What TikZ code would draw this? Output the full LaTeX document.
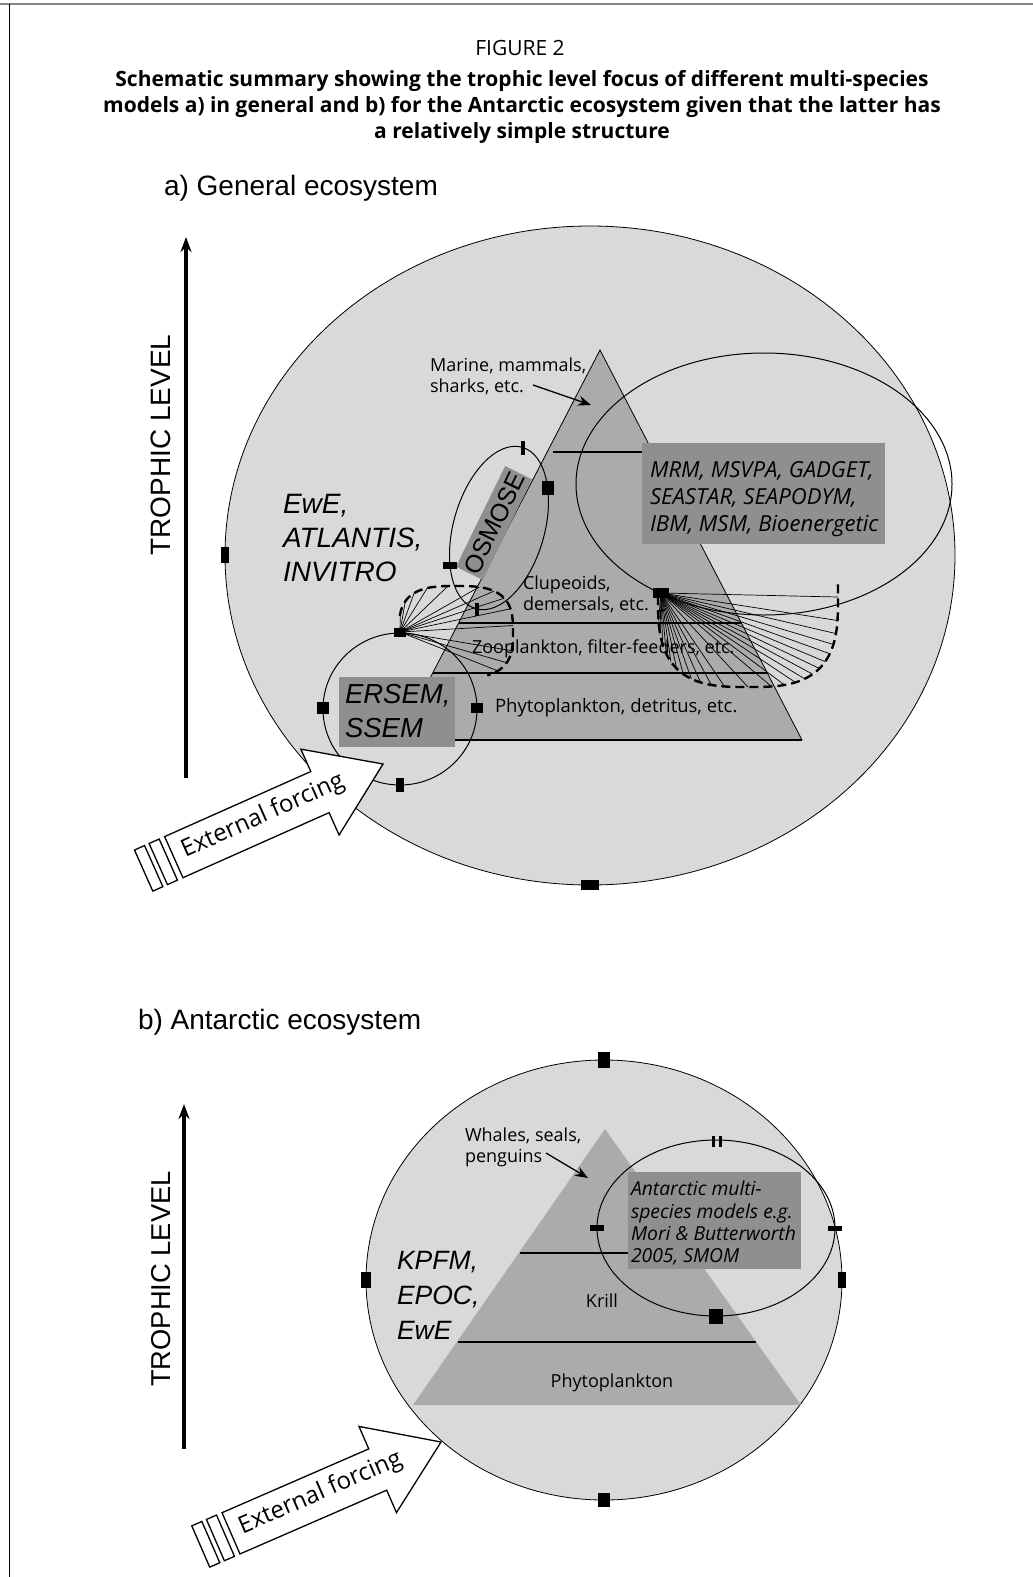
\documentclass[tikz,border=0pt]{standalone}
\usepackage{fontspec}
\setmainfont{Open Sans}
\newfontfamily\arialf{Liberation Sans}
\usetikzlibrary{arrows.meta}
\definecolor{bgray}{HTML}{D9D9D9}
\definecolor{pgray}{HTML}{ABABAB}
\definecolor{bxgray}{HTML}{8F8F8F}
\definecolor{framegray}{HTML}{858585}
\tikzset{
  every node/.style={inner sep=0pt, outer sep=0pt},
  bigell/.style={fill=bgray, draw=black, line width=0.8pt},
  pyr/.style={fill=pgray},
  band/.style={line width=2pt},
  modelbox/.style={fill=bxgray},
  outl/.style={draw=black, line width=1pt},
  mk/.style={fill=black, draw=none, rectangle},
  fanline/.style={line width=0.7pt},
  fanarc/.style={line width=2.4pt, dash pattern=on 9pt off 5pt},
  forcing/.style={fill=white, draw=black, line width=1.3pt, line join=miter},
  axisarrow/.style={line width=3.6pt, -{Stealth[length=15pt,width=11pt]}},
  lblarrow/.style={line width=1.3pt, -{Stealth[length=13pt,width=10pt]}},
  lbl/.style={font=\fontsize{18}{21}\selectfont, align=left},
  armod/.style={font=\arialf\itshape\fontsize{28}{34}\selectfont, align=left},
  heading/.style={font=\arialf\fontsize{28}{30}\selectfont},
  trophic/.style={font=\arialf\fontsize{28}{30}\selectfont, rotate=90},
  eftext/.style={font=\fontsize{24}{26}\selectfont, transform shape}
}
\begin{document}
\begin{tikzpicture}[x=1pt,y=-1pt]
\useasboundingbox (0,0) rectangle (1033,1577);
\fill[white] (0,0) rectangle (1033,1577);
% frame
\draw[framegray, line width=2.2pt] (0,4) -- (1033,4);
\draw[black, line width=1.5pt] (9.5,4) -- (9.5,1577);

% titles
\node[font=\fontsize{21}{22}\selectfont] (fig) at (520,48) {FIGURE 2};
\node[font=\bfseries\fontsize{21}{26}\selectfont, align=center] (title) at (522,106.5)
  {Schematic summary showing the trophic level focus of different multi-species\\
   models a) in general and b) for the Antarctic ecosystem given that the latter has\\
   a relatively simple structure};
\node[heading, anchor=west] (heada) at (164,188) {a) General ecosystem};
\node[heading, anchor=west] (headb) at (138,1022) {b) Antarctic ecosystem};

% ================= PART A =================
\coordinate (ta0) at (186,778);
\coordinate (ta1) at (186,237);
\draw[axisarrow] (ta0) -- (ta1);
\node[trophic] (tla) at (161,445) {TROPHIC LEVEL};

\draw[bigell] (590,555.5) ellipse [x radius=365, y radius=329.5];

% pyramid
\draw[pyr, draw=black, line width=0.8pt] (600,350) -- (802,740) -- (398,740) -- cycle;
\draw[band] (553,452) -- (642,452);
\draw[band] (459,623) -- (741,623);
\draw[band] (433,673) -- (767,673);
\draw[band] (398,740) -- (802,740);

% labels in pyramid
\node[lbl, anchor=west] (marine) at (430,376) {Marine, mammals,\\sharks, etc.};
\coordinate (mstart) at (533,385);
\coordinate (mtip) at (591,405);
\draw[lblarrow] (mstart) -- (mtip);
\node[lbl, anchor=west] (clup) at (523,594) {Clupeoids,\\demersals, etc.};
\node[lbl, anchor=west] (zoo) at (472,649) {Zooplankton, filter-feeders, etc.};
\node[lbl, anchor=west, font=\fontsize{18.5}{21}\selectfont] (phya) at (495,708) {Phytoplankton, detritus, etc.};

% MRM box and ellipse
\fill[modelbox] (642,443) rectangle (885,544);
\node[font=\itshape\fontsize{22.1}{27}\selectfont, align=left, anchor=west] (mrm) at (650,499)
  {MRM, MSVPA, GADGET,\\SEASTAR, SEAPODYM,\\IBM, MSM, Bioenergetic};
\draw[outl] (764,484) ellipse [x radius=188, y radius=131];

% EwE text
\node[armod, anchor=west] (ewe) at (283,538) {EwE,\\ATLANTIS,\\INVITRO};

% ERSEM box and circle
\fill[modelbox] (339,677) rectangle (455,747);
\node[font=\arialf\itshape\fontsize{27.5}{34}\selectfont, align=left, anchor=west] (ersem) at (345,711) {ERSEM,\\SSEM};
\draw[outl] (400,709) ellipse [x radius=77, y radius=76];

% OSMOSE
\begin{scope}[shift={(494,523)}, rotate=64]
  \fill[modelbox] (-56,-15) rectangle (56,15);
  \node[font=\arialf\fontsize{25}{26}\selectfont, transform shape] (osm) at (0,0.5) {OSMOSE};
\end{scope}
\begin{scope}[shift={(499,528)}, rotate=-16]
  \draw[outl] (0,0) ellipse [x radius=45.5, y radius=84];
\end{scope}

% left fan
\coordinate (lfapex) at (400,632);
\foreach \t in {165,147,...,-65} {
  \draw[fanline] (lfapex) -- ({456+57*sign(cos(\t))*pow(abs(cos(\t))+0.0001,0.667)},
                               {632-46*sign(sin(\t))*pow(abs(sin(\t))+0.0001,0.667)});
}
\draw[fanarc] plot[variable=\t, domain=168:-66, samples=70]
  ({456+57*sign(cos(\t))*pow(abs(cos(\t))+0.0001,0.667)},
   {632-46*sign(sin(\t))*pow(abs(sin(\t))+0.0001,0.667)});

% right fan
\coordinate (rfapex) at (661,593);
\foreach \t in {0,-7.5,...,-180} {
  \draw[fanline] (rfapex) -- ({748+90*sign(cos(\t))*pow(abs(cos(\t))+0.0001,0.667)},
                               {597-90*sign(sin(\t))*pow(abs(sin(\t))+0.0001,0.667)});
}
\draw[fanarc] plot[variable=\t, domain=3:-180, samples=90]
  ({748+90*sign(cos(\t))*pow(abs(cos(\t))+0.0001,0.667)},
   {597-90*sign(sin(\t))*pow(abs(sin(\t))+0.0001,0.667)});

% markers part a
\node[mk, minimum width=8, minimum height=16] (ma1) at (225,555) {};
\node[mk, minimum width=18, minimum height=10] (ma2) at (590,885) {};
\node[mk, minimum width=4, minimum height=14] (mo1) at (523,448) {};
\node[mk, minimum width=12, minimum height=14] (mo2) at (548,488) {};
\node[mk, minimum width=14, minimum height=7] (mo3) at (450,565) {};
\node[mk, minimum width=4, minimum height=13] (mo4) at (477,609) {};
\node[mk, minimum width=12, minimum height=9] (me1) at (lfapex) {};
\node[mk, minimum width=12, minimum height=12] (me2) at (323,708) {};
\node[mk, minimum width=12, minimum height=10] (me3) at (477,708) {};
\node[mk, minimum width=8, minimum height=14] (me4) at (400,785) {};
\node[mk, minimum width=16, minimum height=10] (mr1) at (rfapex) {};

% external forcing a
\begin{scope}[shift={(383,764)}, rotate=24]
  \draw[forcing] (0,0) -- (-69,-47) -- (-69,-22.5) -- (-229,-22.5) -- (-229,22.5) -- (-69,22.5) -- (-69,47) -- cycle;
  \draw[forcing] (-246,-22.5) rectangle (-235,22.5);
  \draw[forcing] (-262,-22.5) rectangle (-251,22.5);
  \node[eftext] (efa) at (-131,-1) {External forcing};
\end{scope}

% ================= PART B =================
\coordinate (tb0) at (184,1449);
\coordinate (tb1) at (184,1104);
\draw[axisarrow] (tb0) -- (tb1);
\node[trophic, font=\arialf\fontsize{27.3}{30}\selectfont] (tlb) at (161,1279) {TROPHIC LEVEL};

\draw[bigell] (604,1280) ellipse [x radius=238, y radius=220];
\fill[pyr] (605,1129) -- (801,1405) -- (413,1405) -- cycle;
\draw[band] (520,1253) -- (628,1253);
\draw[band] (458,1342) -- (756,1342);

\node[lbl, anchor=west] (whales) at (465,1147) {Whales, seals,\\penguins};
\coordinate (wstart) at (546,1153);
\coordinate (wtip) at (588,1178);
\draw[lblarrow] (wstart) -- (wtip);
\node[lbl] (krill) at (602,1301) {Krill};
\node[lbl] (phyb) at (612,1383) {Phytoplankton};

\node[font=\arialf\itshape\fontsize{26.5}{35}\selectfont, align=left, anchor=west] (kpfm) at (397,1295) {KPFM,\\EPOC,\\EwE};

\fill[modelbox] (628,1172) rectangle (801,1269);
\node[font=\itshape\fontsize{19.3}{22.2}\selectfont, align=left, anchor=west] (antm) at (631,1223)
  {Antarctic multi-\\species models e.g.\\Mori \& Butterworth\\2005, SMOM};
\draw[outl] (716,1228) ellipse [x radius=119, y radius=88];

% markers part b
\node[mk, minimum width=12, minimum height=16] (mb1) at (604,1060) {};
\node[mk, minimum width=10, minimum height=16] (mb2) at (366,1280) {};
\node[mk, minimum width=8, minimum height=16] (mb3) at (842,1280) {};
\node[mk, minimum width=12, minimum height=14] (mb4) at (604,1500) {};
\node[mk, minimum width=3, minimum height=11] (ms1a) at (713,1141) {};
\node[mk, minimum width=3, minimum height=11] (ms1b) at (720,1141) {};
\node[mk, minimum width=14, minimum height=6] (ms2) at (597,1228) {};
\node[mk, minimum width=14, minimum height=5] (ms3) at (835,1228) {};
\node[mk, minimum width=14, minimum height=15] (ms4) at (716,1316) {};

% external forcing b
\begin{scope}[shift={(441,1442)}, rotate=23.5]
  \draw[forcing] (0,0) -- (-69,-47) -- (-69,-22.5) -- (-229,-22.5) -- (-229,22.5) -- (-69,22.5) -- (-69,47) -- cycle;
  \draw[forcing] (-246,-22.5) rectangle (-235,22.5);
  \draw[forcing] (-262,-22.5) rectangle (-251,22.5);
  \node[eftext] (efb) at (-131,-1) {External forcing};
\end{scope}
\end{tikzpicture}
\end{document}
